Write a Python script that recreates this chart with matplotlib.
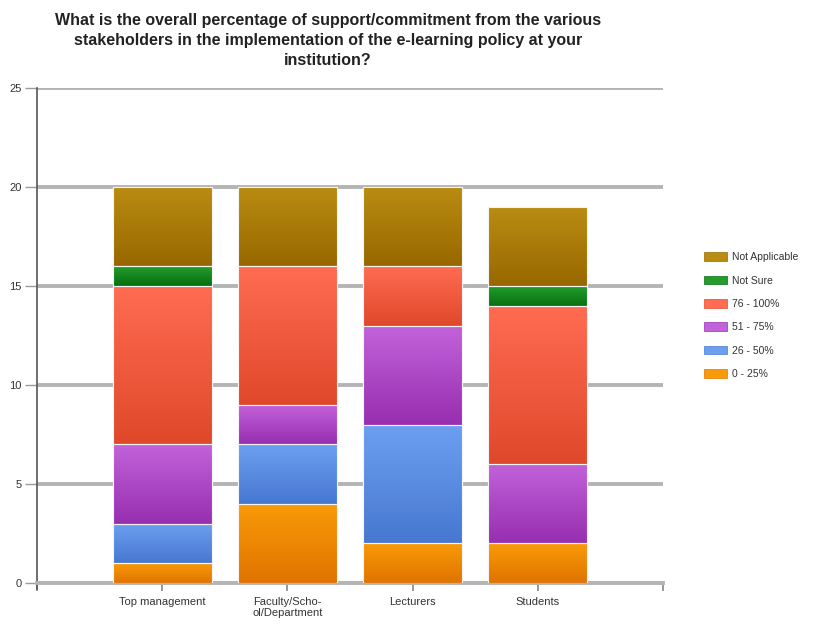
import numpy as np
import matplotlib.pyplot as plt
from matplotlib.colors import LinearSegmentedColormap
from matplotlib.patches import Patch

plt.rcParams['font.family'] = ['Liberation Sans', 'DejaVu Sans']

categories = ['Top management', 'Faculty/Scho-\nol/Department', 'Lecturers', 'Students']
series = ['0 - 25%', '26 - 50%', '51 - 75%', '76 - 100%', 'Not Sure', 'Not Applicable']
pct_0_25 = [1, 4, 2, 2]
pct_26_50 = [2, 3, 6, 0]
pct_51_75 = [4, 2, 5, 4]
pct_76_100 = [8, 7, 3, 8]
not_sure = [1, 0, 0, 1]
not_applicable = [4, 4, 4, 4]
values = [pct_0_25, pct_26_50, pct_51_75, pct_76_100, not_sure, not_applicable]

# (top colour, bottom colour) for each segment's vertical gradient
shades = [('#f99a08', '#e07400'),
          ('#6c9ff0', '#4778d0'),
          ('#c262da', '#982eb0'),
          ('#ff6c52', '#e0482a'),
          ('#239c2c', '#087010'),
          ('#ba8c12', '#986800')]

fig = plt.figure(figsize=(8.19, 6.24), dpi=100)
ax = fig.add_axes([37 / 819, 1 - 583 / 624, 626 / 819, 495 / 624])

x = np.arange(1, len(categories) + 1)
bottom = np.zeros(len(categories))
grad = np.linspace(1, 0, 64).reshape(-1, 1)
for vals, (top_c, bot_c), name in zip(values, shades, series):
    vals = np.array(vals, dtype=float)
    bars = ax.bar(x, vals, width=0.79, bottom=bottom, color=bot_c,
                  edgecolor='#f2f2f2', linewidth=0.8, zorder=3, label=name)
    cmap = LinearSegmentedColormap.from_list(name, [bot_c, top_c])
    for b, v in zip(bars, vals):
        if v <= 0:
            continue
        x0, y0 = b.get_x(), b.get_y()
        im = ax.imshow(grad, cmap=cmap, aspect='auto', vmin=0, vmax=1,
                       extent=(x0, x0 + b.get_width(), y0, y0 + b.get_height()),
                       zorder=3.5, interpolation='bilinear')
        im.set_clip_path(b)
        ax.bar(x0 + b.get_width() / 2, v, width=b.get_width(), bottom=y0,
               fill=False, edgecolor='#f4f4f4', linewidth=0.8, zorder=4)
    bottom += vals

ax.set_xlim(0, 5)
ax.set_ylim(0, 25)
ax.set_yticks(np.arange(0, 26, 5))
ax.set_xticks(np.arange(0, 6))
ax.set_xticklabels([''] + categories + [''])
ax.yaxis.grid(True, color='#b4b4b4', linewidth=2.8, zorder=1)
ax.set_axisbelow(True)
for s in ['top', 'right']:
    ax.spines[s].set_visible(False)
ax.spines['bottom'].set_color('#b4b4b4')
ax.spines['bottom'].set_linewidth(2.8)
ax.spines['left'].set_color('#555555')
ax.spines['left'].set_linewidth(1.2)
ax.spines['left'].set_bounds(-0.3, 25)
ax.tick_params(axis='y', length=9, width=1.0, color='#9a9a9a', labelsize=8,
               labelcolor='#333333', pad=2)
ax.tick_params(axis='x', length=6, width=1.2, color='#888888', labelsize=8,
               labelcolor='#333333', pad=4)
for lbl in ax.get_xticklabels():
    lbl.set_linespacing(1.1)

fig.text(328 / 819, 1 - 13 / 624,
         'What is the overall percentage of support/commitment from the various\n'
         'stakeholders in the implementation of the e-learning policy at your\n'
         'institution?', ha='center', va='top', fontsize=11.5, fontweight='bold',
         color='#222222', linespacing=1.4)

handles = [Patch(facecolor=top_c, edgecolor=bot_c, linewidth=0.5)
           for top_c, bot_c in shades][::-1]
leg = fig.legend(handles, series[::-1], loc='upper left',
                 bbox_to_anchor=(695 / 819, 1 - 243 / 624), frameon=False,
                 fontsize=7.5, handlelength=2.2, handleheight=0.9,
                 labelspacing=1.28, handletextpad=0.5)
for t in leg.get_texts():
    t.set_color('#333333')

fig.savefig('out.png', dpi=100)
